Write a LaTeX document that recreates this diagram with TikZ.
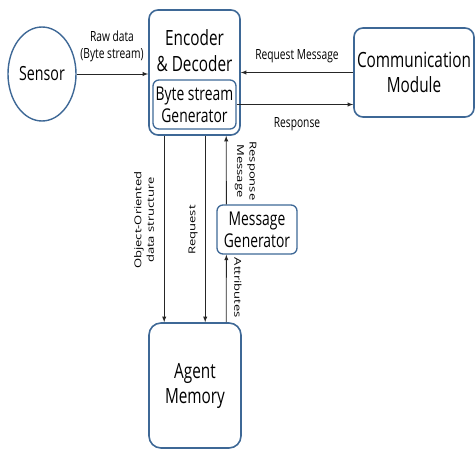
\documentclass[tikz,border=0pt]{standalone}
\usepackage{fontspec}
\setmainfont{Open Sans}[FakeStretch=0.73]
\newfontfamily\sidefont{Open Sans}[FakeStretch=1.37]
\usepackage{tikz}
\usetikzlibrary{shapes, arrows, positioning, calc, shapes.geometric}
\definecolor{moduleblue}{RGB}{62, 104, 150}

\begin{document}
\begin{tikzpicture}[x=1pt, y=-1pt, >=latex,
    module/.style={rectangle, draw=moduleblue, line width=1.6pt, rounded corners=9pt, align=center, font=\fontsize{21}{25}\selectfont, inner sep=0pt},
    inner/.style={rectangle, draw=moduleblue, line width=1.3pt, rounded corners=6pt, align=center, font=\fontsize{19}{22}\selectfont, inner sep=0pt},
    flow/.style={->, line width=0.9pt, color=black!85},
    note/.style={font=\fontsize{14}{17}\selectfont, align=center, inner sep=0pt},
    sidenote/.style={font=\sidefont\fontsize{9.5}{12.5}\selectfont, align=center, inner sep=0pt}]

    \useasboundingbox (0,0) rectangle (475,449);

    % Modules
    \node[ellipse, draw=moduleblue, line width=1.4pt, minimum width=68pt, minimum height=94pt, inner sep=0pt, font=\fontsize{19.5}{23}\selectfont] (sensor) at (42,74) {Sensor};

    \node[module, minimum width=91pt, minimum height=125pt] (codec) at (194.5,72.5) {};
    \node[font=\fontsize{21}{26}\selectfont, align=center, inner sep=0pt] (codectitle) at (194.5,51) {Encoder\\\& Decoder};
    \node[inner, minimum width=83pt, minimum height=49pt] (bytegen) at (194.5,104.5) {Byte stream\\Generator};

    \node[module, minimum width=120pt, minimum height=89pt] (comm) at (414,72.5) {Communication\\Module};

    \node[inner, minimum width=80pt, minimum height=49pt] (msggen) at (257,229.5) {Message\\Generator};

    \node[module, rounded corners=12pt, minimum width=92pt, minimum height=125pt] (memory) at (195,385.5) {Agent\\Memory};

    % Relations
    \draw[flow] (sensor.east) -- (sensor.east -| codec.west);
    \node[note] (rawlabel) at (112,46) {Raw data\\(Byte stream)};

    \draw[flow] (comm.west) -- (comm.west -| codec.east);
    \node[note] (reqmsglabel) at (297,56) {Request Message};

    \draw[flow] (bytegen.east) -- (bytegen.east -| comm.west);
    \node[note] (resplabel) at (297,124) {Response};

    \draw[flow] ([xshift=16pt]codec.south west) -- ([xshift=16pt]memory.north west);
    \node[sidenote, rotate=90] (objlabel) at (144,220) {Object-Oriented\\data structure};

    \draw[flow] ([xshift=57pt]codec.south west) -- ([xshift=57pt]memory.north west);
    \node[sidenote, rotate=90] (reqlabel) at (193,230) {Request};

    \draw[flow] ([xshift=10pt]msggen.north west) -- ([xshift=78pt]codec.south west);
    \node[sidenote, rotate=-90] (respmsglabel) at (245.5,171) {Response\\Message};

    \draw[flow] ([xshift=78pt]memory.north west) -- ([xshift=10pt]msggen.south west);
    \node[sidenote, rotate=-90] (attrlabel) at (238,288) {Attributes};
\end{tikzpicture}
\end{document}
